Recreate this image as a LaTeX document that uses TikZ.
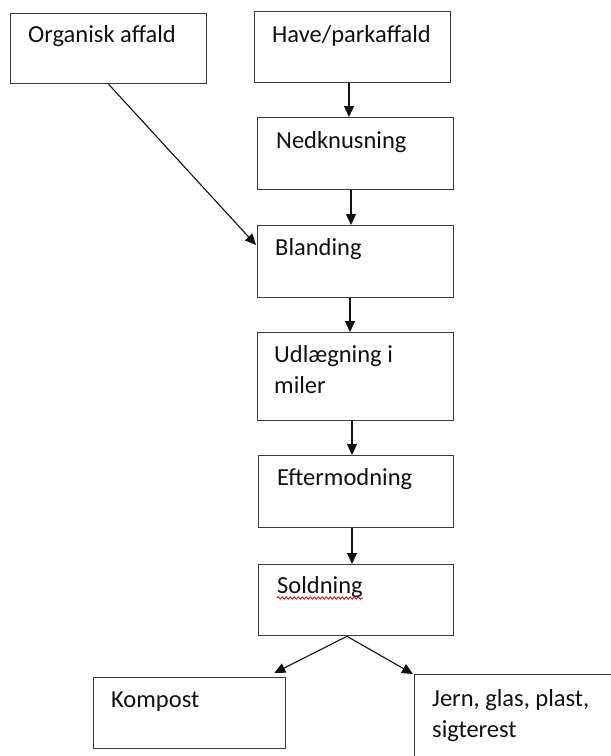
\documentclass[tikz,border=0pt]{standalone}
\usepackage{fontspec}
\setmainfont{Carlito}
\usetikzlibrary{arrows.meta,calc,decorations.pathmorphing}
\definecolor{boxline}{HTML}{3A3A3A}
\definecolor{ink}{HTML}{111111}
\tikzset{
  stagebox/.style={draw=boxline,line width=1.3pt,rectangle,anchor=north west,inner sep=0pt},
  lbl/.style={anchor=base west,inner sep=0pt,text=ink,font=\fontsize{24.5}{30.5}\selectfont,align=left},
  flow/.style={draw=ink,line width=1.1pt,-{Triangle[length=11pt,width=10pt]}},
  spell/.style={draw=red!85!black,line width=0.8pt,decorate,decoration={snake,amplitude=1.2pt,segment length=4pt}}
}
\begin{document}
\begin{tikzpicture}[x=1pt,y=-1pt]
\useasboundingbox (0,0) rectangle (611,756);
\clip (0,0) rectangle (611,756);
\fill[white] (0,0) rectangle (611,756);

% process boxes
\node[stagebox,minimum width=196pt,minimum height=70pt] (org)   at (10,13)   {};
\node[stagebox,minimum width=196pt,minimum height=71pt] (have)  at (254,11)  {};
\node[stagebox,minimum width=196pt,minimum height=72pt] (ned)   at (257,117) {};
\node[stagebox,minimum width=196pt,minimum height=72pt] (bland) at (257,225) {};
\node[stagebox,minimum width=196pt,minimum height=88pt] (udl)   at (257,332) {};
\node[stagebox,minimum width=195pt,minimum height=72pt] (efter) at (258,455) {};
\node[stagebox,minimum width=195pt,minimum height=71pt] (sold)  at (258,564) {};
\node[stagebox,minimum width=192pt,minimum height=71pt] (komp)  at (93,677)  {};
\node[stagebox,minimum width=230pt,minimum height=120pt] (jern) at (414,674) {};

% box texts (two-line labels sit on the baseline of their last line)
\node[lbl] (torg)   at (28,42)   {Organisk affald};
\node[lbl] (thave)  at (272,42)  {Have/parkaffald};
\node[lbl] (tned)   at (276,148) {Nedknusning};
\node[lbl] (tbland) at (275,255) {Blanding};
\node[lbl] (tudl)   at (274,393) {Udlægning i\\miler};
\node[lbl] (tefter) at (277,485) {Eftermodning};
\node[lbl] (tsold)  at (277,593) {Soldning};
\node[lbl] (tkomp)  at (111,707) {Kompost};
\node[lbl] (tjern)  at (432,737) {Jern, glas, plast,\\sigterest};

% spelling squiggle under the last word
\draw[spell] ($(tsold.base west)+(0,5)$) -- ($(tsold.base east)+(0,5)$);

% connectors
\draw[flow] (have.south -| 349,0) -- (ned.north -| 349,0);
\draw[flow] (ned.south -| 351,0) -- (bland.north -| 351,0);
\draw[flow] (bland.south -| 350,0) -- (udl.north -| 350,0);
\draw[flow] (udl.south -| 352,0) -- (efter.north -| 352,0);
\draw[flow] (efter.south -| 352,0) -- (sold.north -| 352,0);
\draw[flow] (org.south) -- ($(bland.north west)+(-1,20)$);
\coordinate (split) at ($(sold.south west)+(89,0)$);
\draw[flow] (split) -- ($(komp.north east)+(-12,-4)$);
\draw[flow] (split) -- ($(jern.north west)+(-1,0)$);
\end{tikzpicture}
\end{document}
